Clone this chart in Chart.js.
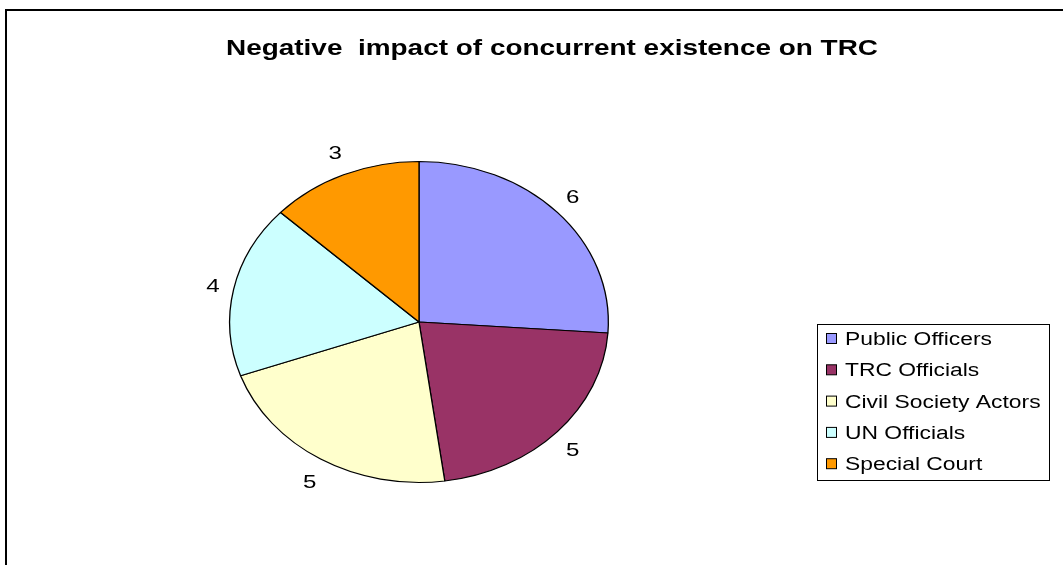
<!DOCTYPE html>
<html>
<head>
<meta charset="utf-8">
<script src="https://cdn.jsdelivr.net/npm/chart.js@4"></script>
<style>
  html, body { margin: 0; padding: 0; background: #fff; }
  #wrap { position: relative; width: 1063px; height: 565px; }
</style>
</head>
<body>
<div id="wrap"><canvas id="pie"></canvas></div>
<script>
// data
const groups = ['Public Officers', 'TRC Officials', 'Civil Society Actors', 'UN Officials', 'Special Court'];
const counts = [6, 5, 5, 4, 3];
const sliceColors = ['#9999FF', '#993366', '#FFFFCC', '#CCFFFF', '#FF9900'];
const chartTitle = 'Negative  impact of concurrent existence on TRC';

// the original picture is stretched sideways: pie is squashed, text is wide
const squash = 161 / 190;
const textStretch = 1.27;

// squash the pie drawing around its centre
const ellipsePlugin = {
  id: 'ellipse',
  beforeDatasetsDraw(chart) {
    const arc = chart.getDatasetMeta(0).data[0];
    const ctx = chart.ctx;
    ctx.save();
    ctx.translate(arc.x, arc.y);
    ctx.scale(1, squash);
    ctx.translate(-arc.x, -arc.y);
  },
  afterDatasetsDraw(chart) {
    chart.ctx.restore();
  }
};

// draw text widened by textStretch; align 'center' or 'left'
function wideText(ctx, txt, x, y, align) {
  ctx.save();
  ctx.translate(x, y);
  ctx.scale(textStretch, 1);
  ctx.textAlign = align;
  ctx.fillText(txt, 0, 0);
  ctx.restore();
}

// frame, title, value labels and legend box
const decorPlugin = {
  id: 'decor',
  afterDraw(chart) {
    const ctx = chart.ctx;
    ctx.save();

    // outer frame (runs off the right / bottom)
    ctx.strokeStyle = '#000';
    ctx.lineWidth = 2;
    ctx.beginPath();
    ctx.moveTo(6, 600);
    ctx.lineTo(6, 10);
    ctx.lineTo(1100, 10);
    ctx.stroke();

    // title
    ctx.fillStyle = '#000';
    ctx.textBaseline = 'middle';
    ctx.font = 'bold 22px "Liberation Sans", Arial, sans-serif';
    wideText(ctx, chartTitle, 552, 49, 'center');

    // value labels outside the slices
    ctx.font = '19px "Liberation Sans", Arial, sans-serif';
    const meta = chart.getDatasetMeta(0);
    meta.data.forEach((arc, i) => {
      const mid = (arc.startAngle + arc.endAngle) / 2;
      const dx = Math.cos(mid), dy = Math.sin(mid);
      const r = arc.outerRadius;
      const x = arc.x + dx * (r + 21);
      const y = arc.y + dy * (r * squash + 25) + 2;
      wideText(ctx, String(counts[i]), x, y, 'center');
    });

    // legend
    const lx = 817, ly = 324, lw = 232, lh = 156;
    ctx.lineWidth = 1;
    ctx.strokeStyle = '#000';
    ctx.strokeRect(lx + 0.5, ly + 0.5, lw, lh);
    ctx.font = '18px "Liberation Sans", Arial, sans-serif';
    groups.forEach((g, i) => {
      const cy = 339 + i * 31.3;
      ctx.fillStyle = sliceColors[i];
      ctx.fillRect(826.5, cy - 5.5, 10, 10);
      ctx.strokeRect(826.5, cy - 5.5, 10, 10);
      ctx.fillStyle = '#000';
      wideText(ctx, g, 845, cy + 1, 'left');
    });

    ctx.restore();
  }
};

const ctx = document.getElementById('pie').getContext('2d');
const pieChart = new Chart(ctx, {
  type: 'pie',
  data: {
    labels: groups,
    datasets: [{
      data: counts,
      backgroundColor: sliceColors,
      borderColor: '#000',
      borderWidth: 1.3,
      borderAlign: 'center'
    }]
  },
  options: {
    responsive: true,
    maintainAspectRatio: false,
    animation: false,
    events: [],
    layout: {
      padding: { left: 229, right: 454, top: 132, bottom: 53 }
    },
    plugins: {
      legend: { display: false },
      title: { display: false },
      tooltip: { enabled: false }
    }
  },
  plugins: [ellipsePlugin, decorPlugin]
});
</script>
</body>
</html>
